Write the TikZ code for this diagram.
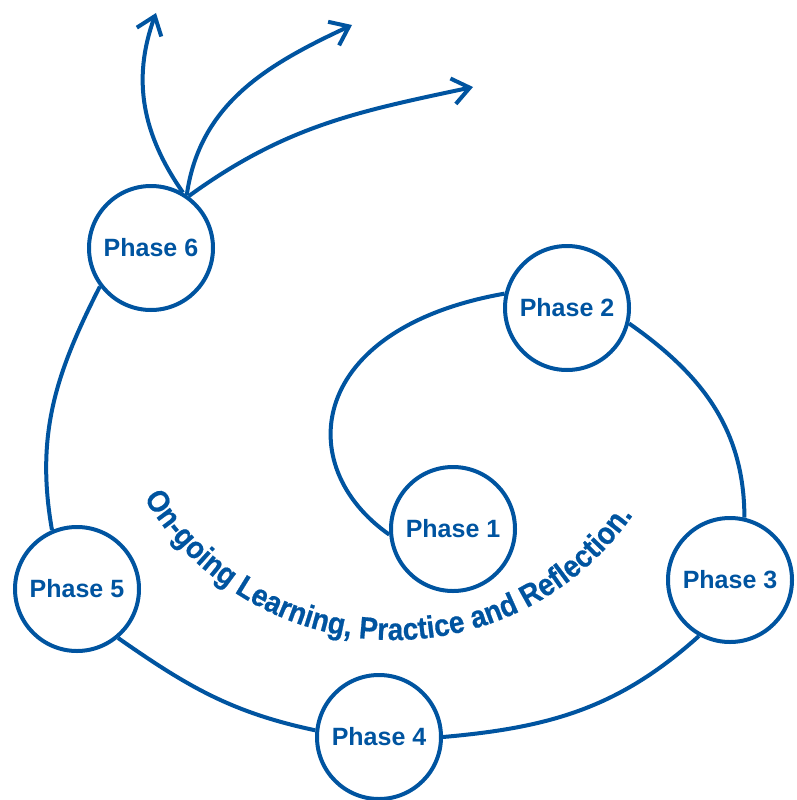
\documentclass[tikz,border=0pt]{standalone}
\usepackage{fontspec}
\setmainfont{Liberation Sans}
\newfontfamily\arcfont{Liberation Sans}[FakeStretch=0.9, FakeBold=0.6]
\usepackage{tikz}
\usetikzlibrary{arrows.meta,decorations.text}
\definecolor{phaseblue}{RGB}{0,84,160}

\begin{document}
\begin{tikzpicture}[x=1pt,y=1pt,
phase/.style={circle, draw=phaseblue, line width=4pt, minimum size=124pt, inner sep=0pt, text=phaseblue, font=\fontsize{25}{30}\selectfont\bfseries},
link/.style={draw=phaseblue, line width=4pt},
branch/.style={link, -{Straight Barb[length=17pt,width=26pt]}}]
\useasboundingbox (0,0) rectangle (796,-800);

\node [phase] (ph1) at (453,-529) {Phase 1}; \node [phase] (ph2) at (567,-308) {Phase 2}; \node [phase] (ph3) at (730,-580) {Phase 3};
\node [phase] (ph4) at (379,-737) {Phase 4}; \node [phase] (ph5) at (77,-589) {Phase 5}; \node [phase] (ph6) at (151,-248) {Phase 6};
\coordinate (up) at (156,-13); \coordinate (mid) at (352,-25); \coordinate (far) at (473,-87);

\draw [link] (ph1.185) to[out=145, in=190, out distance=120pt, in distance=200pt] (ph2.167);
\draw [link] (ph2.-14) to[out=-35, in=90] (ph3.77);
\draw [link] (ph3.241) to[out=222, in=5] (ph4.0);
\draw [link] (ph4.174) to[out=168, in=-35] (ph5.-50);
\draw [link] (ph5.113) to[out=100, in=243] (ph6.217);

\draw [branch] (ph6.60) to[out=125, in=250] (up);
\draw [branch] (ph6.56) to[out=82, in=205] (mid);
\draw [branch] (ph6.54) to[out=36, in=192] (far);

\path [decorate, decoration={text along path, text align=center, text color=phaseblue,
text={|\arcfont\fontsize{31}{31}\selectfont\bfseries|On-going Learning{,} Practice and Reflection.}}]
(394,-349) ++(198:291) arc[start angle=198, end angle=338, radius=291];
\end{tikzpicture}
\end{document}
